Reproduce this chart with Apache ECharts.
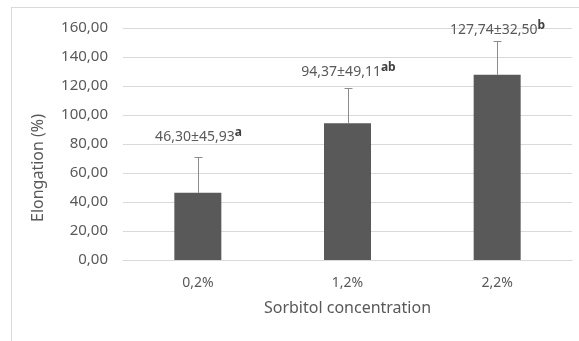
<!DOCTYPE html>
<html><head><meta charset="utf-8">
<script src="https://cdn.jsdelivr.net/npm/echarts@6/dist/echarts.min.js"></script>
<style>html,body{margin:0;padding:0;background:#fff}#c{width:579px;height:341px}</style>
</head><body><div id="c"></div>
<script>
const categories = ['0,2%', '1,2%', '2,2%'];
const means = [46.30, 94.37, 127.74];
const errorTops = [71.0, 118.4, 151.2];
const labelTexts = ['46,30±45,93', '94,37±49,11', '127,74±32,50'];
const labelLetters = ['a', 'ab', 'b'];
const yTicks = { min: 0, max: 160, interval: 20 };
// styling: label pixel gaps above the error cap
const labelGaps = [20, 16, 11];

const chart = echarts.init(document.getElementById('c'), null, { renderer: 'canvas' });
const font = 'Noto Sans';
const textColor = '#595959';

chart.setOption({
  animation: false,
  grid: { left: 123, right: 7, top: 28, bottom: 81 },
  graphic: [
    { type: 'line', shape: { x1: 11, y1: 7.5, x2: 579, y2: 7.5 }, style: { stroke: '#d9d9d9', lineWidth: 1 } },
    { type: 'line', shape: { x1: 11.5, y1: 7, x2: 11.5, y2: 341 }, style: { stroke: '#d9d9d9', lineWidth: 1 } },
    { type: 'text', x: 38, y: 168, rotation: Math.PI / 2,
      style: { text: 'Elongation (%)', fill: textColor, font: '16px "Noto Sans"', align: 'center', verticalAlign: 'middle' } }
  ],
  xAxis: {
    type: 'category', data: categories,
    axisLine: { lineStyle: { color: '#d9d9d9' } },
    axisTick: { show: false },
    axisLabel: { color: textColor, fontFamily: font, fontSize: 14, margin: 16 },
    name: 'Sorbitol concentration', nameLocation: 'middle', nameGap: 40,
    nameTextStyle: { color: textColor, fontFamily: font, fontSize: 16 }
  },
  yAxis: {
    type: 'value', min: yTicks.min, max: yTicks.max, interval: yTicks.interval,
    axisLine: { show: false }, axisTick: { show: false },
    splitLine: { lineStyle: { color: '#d9d9d9' } },
    axisLabel: { color: textColor, fontFamily: font, fontSize: 15, margin: 15,
      formatter: v => v.toFixed(2).replace('.', ',') }
  },
  series: [
    { type: 'bar', data: means, barWidth: 47, itemStyle: { color: '#595959' } },
    {
      type: 'custom', z: 5,
      data: means.map((m, i) => [i, m, errorTops[i]]),
      renderItem: (params, api) => {
        const i = api.value(0);
        const base = api.coord([i, api.value(1)]);
        const top = api.coord([i, api.value(2)]);
        const x = Math.round(base[0]) + 0.5;
        const yt = Math.round(top[1]) + 0.5;
        return {
          type: 'group',
          children: [
            { type: 'line', shape: { x1: x, y1: base[1], x2: x, y2: yt }, style: { stroke: '#8c8c8c', lineWidth: 1 } },
            { type: 'line', shape: { x1: x - 4, y1: yt, x2: x + 4, y2: yt }, style: { stroke: '#8c8c8c', lineWidth: 1 } },
            { type: 'text', x: x, y: yt - labelGaps[i],
              style: {
                text: '{v|' + labelTexts[i] + '}{s|' + labelLetters[i] + '}',
                align: 'center', verticalAlign: 'middle',
                rich: {
                  v: { fill: textColor, fontFamily: font, fontSize: 14, lineHeight: 20 },
                  s: { fill: '#404040', fontFamily: font, fontSize: 12, fontWeight: 'bold', lineHeight: 20, padding: [0, 0, 10, 0] }
                }
              } }
          ]
        };
      }
    }
  ]
});
</script></body></html>
